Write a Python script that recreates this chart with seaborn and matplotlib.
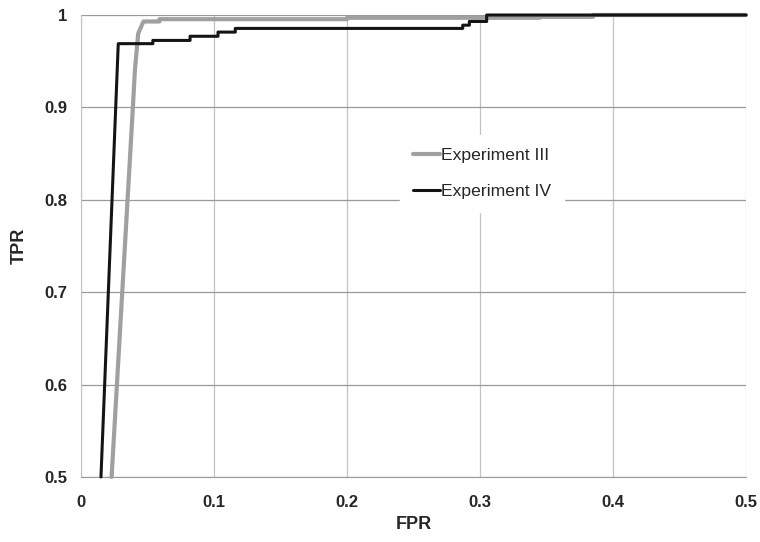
import matplotlib
matplotlib.use("Agg")
import matplotlib.pyplot as plt
import pandas as pd
import seaborn as sns

# ROC vertices
fpr_exp3 = [0.023, 0.035, 0.039, 0.0405, 0.043, 0.046, 0.047, 0.059, 0.059, 0.2, 0.2, 0.345, 0.345, 0.385, 0.385, 0.5]
tpr_exp3 = [0.5, 0.8, 0.9, 0.94, 0.98, 0.99, 0.993, 0.993, 0.9955, 0.9955, 0.997, 0.997, 0.998, 0.998, 1.0, 1.0]

fpr_exp4 = [0.015, 0.028, 0.054, 0.054, 0.082, 0.082, 0.103, 0.103, 0.116, 0.116,
            0.287, 0.287, 0.292, 0.292, 0.305, 0.305, 0.5]
tpr_exp4 = [0.5, 0.969, 0.969, 0.9725, 0.9725, 0.977, 0.977, 0.9815, 0.9815, 0.9855,
            0.9855, 0.989, 0.989, 0.993, 0.993, 1.0, 1.0]

series_names = ["Experiment III", "Experiment IV"]
series_colors = ["#a0a0a0", "#141414"]
series_widths = [3.0, 2.2]

x_ticks = [0, 0.1, 0.2, 0.3, 0.4, 0.5]
x_tick_labels = ["0", "0.1", "0.2", "0.3", "0.4", "0.5"]
y_ticks = [0.5, 0.6, 0.7, 0.8, 0.9, 1.0]
y_tick_labels = ["0.5", "0.6", "0.7", "0.8", "0.9", "1"]

sns.set_style("white")
plt.rcParams["font.family"] = ["Liberation Sans", "DejaVu Sans"]

fig = plt.figure(figsize=(7.6, 5.42), dpi=100)
ax = fig.add_axes([0.1066, 0.12, 0.875, 0.8523])

curves = [(fpr_exp3, tpr_exp3), (fpr_exp4, tpr_exp4)]
for name, (fpr, tpr), color, width in zip(series_names, curves, series_colors, series_widths):
    frame = pd.DataFrame({"FPR": fpr, "TPR": tpr})
    sns.lineplot(data=frame, x="FPR", y="TPR", ax=ax, sort=False, estimator=None,
                 color=color, linewidth=width, label=name, clip_on=False, zorder=3)

ax.set_xlim(0, 0.5)
ax.set_ylim(0.5, 1.0)
ax.set_xticks(x_ticks)
ax.set_xticklabels(x_tick_labels)
ax.set_yticks(y_ticks)
ax.set_yticklabels(y_tick_labels)
for label in ax.get_xticklabels() + ax.get_yticklabels():
    label.set_fontweight("bold")
    label.set_fontsize(12)

ax.yaxis.grid(True, color="#9a9a9a", linewidth=0.9)
ax.xaxis.grid(True, color="#c4c4c4", linewidth=0.9)
ax.tick_params(axis="both", length=5, width=0.9, color="#9a9a9a", pad=5)
ax.tick_params(axis="x", pad=8)
for side in ["top", "right"]:
    ax.spines[side].set_visible(False)
ax.spines["left"].set_color("#c4c4c4")
ax.spines["bottom"].set_color("#9a9a9a")

ax.set_xlabel("FPR", fontsize=13, fontweight="bold", labelpad=4)
ax.set_ylabel("TPR", fontsize=13, fontweight="bold", labelpad=12)

legend = ax.legend(loc="center", bbox_to_anchor=(0.603, 0.657), frameon=True, fancybox=False,
                   facecolor="white", edgecolor="white", framealpha=1.0, fontsize=12.6,
                   handlelength=1.5, handletextpad=0.05, labelspacing=1.15, borderpad=0.75)
legend.set_zorder(5)

fig.savefig("out.png", dpi=100)
